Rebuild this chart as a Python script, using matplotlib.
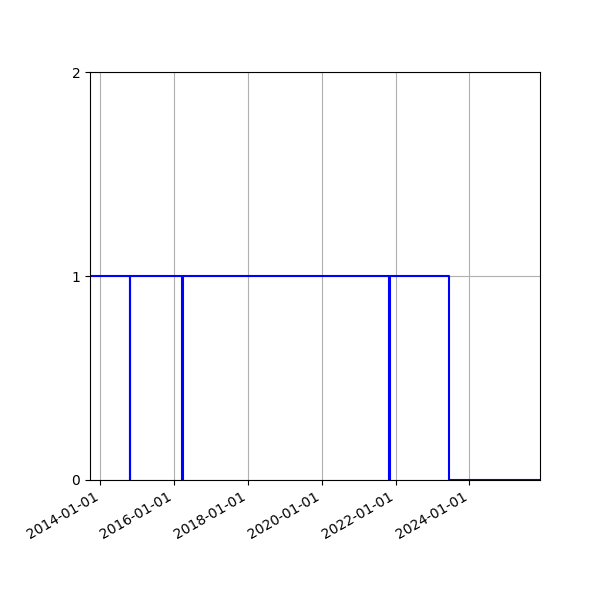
import matplotlib
matplotlib.use("Agg")
from matplotlib import pyplot as plt
import matplotlib.dates as mdates
import numpy as np
import pandas as pd

# status over time (1 = up, 0 = down)
dates = ['2013-09-20', '2014-10-17', '2014-10-21', '2016-03-21', '2016-03-30',
         '2021-10-24', '2021-11-03', '2023-06-11', '2025-12-01']
values = [1, 0, 1, 0, 1, 0, 1, 0, 0]
y_ticks = [0, 1, 2]

t = pd.to_datetime(dates)

fig, ax = plt.subplots(figsize=(6, 6), dpi=100)
ax.plot(t, values, drawstyle='steps-post', color='blue', linewidth=1.5)

ax.set_xlim(t[0], t[-1])
ax.set_ylim(0, 2)
ax.set_yticks(y_ticks)
ax.xaxis.set_major_locator(mdates.YearLocator(2))
ax.xaxis.set_major_formatter(mdates.DateFormatter('%Y-%m-%d'))
ax.grid(True)
fig.autofmt_xdate()
plt.subplots_adjust(left=0.15, right=0.9, top=0.88, bottom=0.2)
plt.savefig('out.png')
